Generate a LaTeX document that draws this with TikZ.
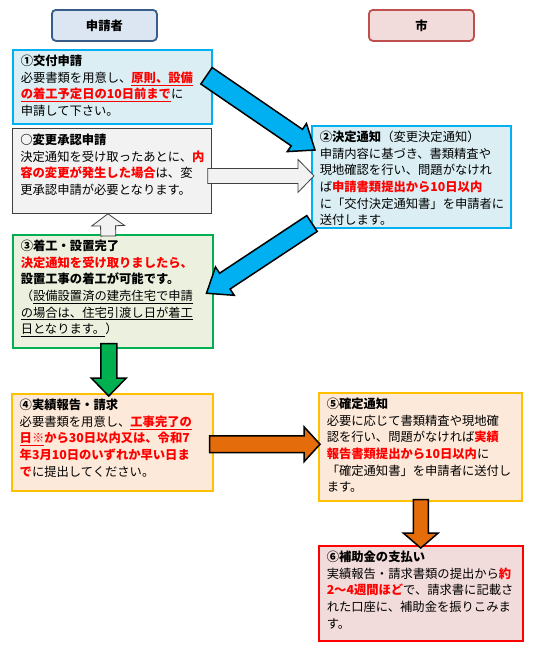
\documentclass[tikz,border=0pt]{standalone}
\usepackage{xcolor}
\usepackage{fontspec}
\setmainfont{Noto Sans CJK JP}
\usepackage{tikz}
\usetikzlibrary{calc,positioning}

\definecolor{hdrAfill}{HTML}{DCE6F2}
\definecolor{hdrAline}{HTML}{385D8A}
\definecolor{hdrBfill}{HTML}{F2DCDB}
\definecolor{hdrBline}{HTML}{C0504D}
\definecolor{cyanline}{HTML}{00B0F0}
\definecolor{bluefill}{HTML}{DAEEF3}
\definecolor{grayfill}{HTML}{F2F2F2}
\definecolor{grayline}{HTML}{404040}
\definecolor{greenline}{HTML}{00B050}
\definecolor{greenfill}{HTML}{EBF1DE}
\definecolor{amberline}{HTML}{FFC000}
\definecolor{peachfill}{HTML}{FDE9D9}
\definecolor{orangefill}{HTML}{E46C0A}
\definecolor{pinkfill}{HTML}{F2DCDB}

% red bold text
\newcommand{\redb}[1]{\textcolor{red}{\textbf{#1}}}

% block arrow: [style]{from}{to}{half shaft}{half head}{head length}
\newcommand{\blockarrow}[6][]{%
  \coordinate (ba) at ($(#3)!#6!(#2)$);
  \draw[#1] ($(#2)!#4!90:(#3)$) -- ($(ba)!#4!90:(#3)$) -- ($(ba)!#5!90:(#3)$) -- (#3)
    -- ($(ba)!#5!-90:(#3)$) -- ($(ba)!#4!-90:(#3)$) -- ($(#2)!#4!-90:(#3)$) -- cycle;
}

\tikzset{
  box/.style={draw, line width=1.5pt, anchor=north west, align=left,
    inner xsep=8pt, inner ysep=5pt, text height=11pt,
    font=\fontsize{12.3}{16.6}\selectfont},
  bluebox/.style={box, draw=cyanline, fill=bluefill},
  graybox/.style={box, draw=grayline, fill=grayfill, line width=0.8pt},
  greenbox/.style={box, draw=greenline, fill=greenfill},
  orangebox/.style={box, draw=amberline, fill=peachfill},
  redbox/.style={box, draw=red, fill=pinkfill},
  header/.style={draw, line width=1.8pt, rounded corners=4pt, anchor=north west,
    minimum width=105pt, minimum height=31pt, font=\fontsize{12.3}{14}\selectfont\bfseries},
  bluearrow/.style={fill=cyanline, draw=black, line width=1.5pt},
  grayarrow/.style={fill=grayfill, draw=grayline, line width=0.8pt},
  greenarrow/.style={fill=greenline, draw=black, line width=1.5pt},
  orangearrow/.style={fill=orangefill, draw=black, line width=1.5pt}
}

\begin{document}
\begin{tikzpicture}[x=1pt,y=-1pt]
\useasboundingbox (0,0) rectangle (549,649);

% Headers
\node[header, draw=hdrAline, fill=hdrAfill] (hdrA) at (51,9) {申請者};
\node[header, draw=hdrBline, fill=hdrBfill] (hdrB) at (368,9) {市};

% Applicant side
\node[bluebox, text width=183pt, text depth=53pt] (b1) at (12,49) {%
  \textbf{①交付申請}\\
  必要書類を用意し、\redb{\underline{原則、設備}}\\
  \redb{\underline{の着工予定日の10日前まで}}に\\
  申請して下さい。};

\node[graybox, text width=183pt, text depth=64pt] (bchg) at (12,128) {%
  \textbf{○変更承認申請}\\
  決定通知を受け取ったあとに、\redb{内}\\
  \redb{容の変更が発生した場合}は、変\\
  更承認申請が必要となります。};

\node[greenbox, text width=184pt, text depth=92pt] (b3) at (12,234) {%
  \textbf{③着工・設置完了}\\
  \redb{決定通知を受け取りましたら、}\\
  \textbf{設置工事の着工が可能です。}\\
  （\underline{設備設置済の建売住宅で申請}\\
  \underline{の場合は、住宅引渡し日が着工}\\
  \underline{日となります。}）};

\node[orangebox, text width=185pt, text depth=76pt] (b4) at (11,393) {%
  \textbf{④実績報告・請求}\\
  必要書類を用意し、\redb{\underline{工事完了の}}\\
  \redb{\underline{日※}から30日以内又は、令和7}\\
  \redb{年3月10日のいずれか早い日ま}\\
  \redb{で}に提出してください。};

% City side
\node[bluebox, text width=183pt, text depth=81pt] (b2) at (311,125) {%
  \textbf{②決定通知}（変更決定通知）\\
  申請内容に基づき、書類精査や\\
  現地確認を行い、問題がなけれ\\
  ば\redb{申請書類提出から10日以内}\\
  に「交付決定通知書」を申請者に\\
  送付します。};

\node[orangebox, text width=187pt, text depth=87pt] (b5) at (318,392) {%
  \textbf{⑤確定通知}\\
  必要に応じて書類精査や現地確\\
  認を行い、問題がなければ\redb{実績}\\
  \redb{報告書類提出から10日以内}に\\
  「確定通知書」を申請者に送付し\\
  ます。};

\node[redbox, text width=188pt, text depth=74pt] (b6) at (318,545) {%
  \textbf{⑥補助金の支払い}\\
  実績報告・請求書類の提出から\redb{約}\\
  \redb{2～4週間ほど}で、請求書に記載さ\\
  れた口座に、補助金を振りこみま\\
  す。};

% Arrow end points
\coordinate (a1s) at ($(b1.east)+(-6,-11)$);
\coordinate (a1e) at ($(b2.north west)+(4,25)$);
\coordinate (a2s) at ($(b2.south west)+(1,-5)$);
\coordinate (a2e) at ($(b3.east)+(-7,2)$);
\coordinate (a3s) at ($(bchg.east)+(-4,5)$);
\coordinate (a3e) at ($(b2.west |- a3s)+(3,0)$);
\coordinate (a4s) at ($(b3.north)+(-4.5,2)$);
\coordinate (a4e) at ($(bchg.south)+(-4,0)$);
\coordinate (a5s) at ($(b3.south)+(-4,-5)$);
\coordinate (a5e) at ($(b4.north)+(-3.5,3)$);
\coordinate (a6s) at ($(b4.east)+(-4,2)$);
\coordinate (a6e) at ($(b5.west |- a6s)+(2,0)$);
\coordinate (a7s) at ($(b5.south)+(0.5,-2)$);
\coordinate (a7e) at ($(b6.north)+(0,3)$);

% Arrows
\blockarrow[bluearrow]{a1s}{a1e}{10pt}{17pt}{22pt}
\blockarrow[bluearrow]{a2s}{a2e}{9.5pt}{17pt}{22pt}
\blockarrow[grayarrow]{a3s}{a3e}{7.5pt}{16.5pt}{16pt}
\blockarrow[grayarrow]{a4s}{a4e}{7.5pt}{16.5pt}{12pt}
\blockarrow[greenarrow]{a5s}{a5e}{8pt}{17.5pt}{18pt}
\blockarrow[orangearrow]{a6s}{a6e}{8.3pt}{17.5pt}{16pt}
\blockarrow[orangearrow]{a7s}{a7e}{7.5pt}{17.5pt}{15pt}
\end{tikzpicture}
\end{document}
